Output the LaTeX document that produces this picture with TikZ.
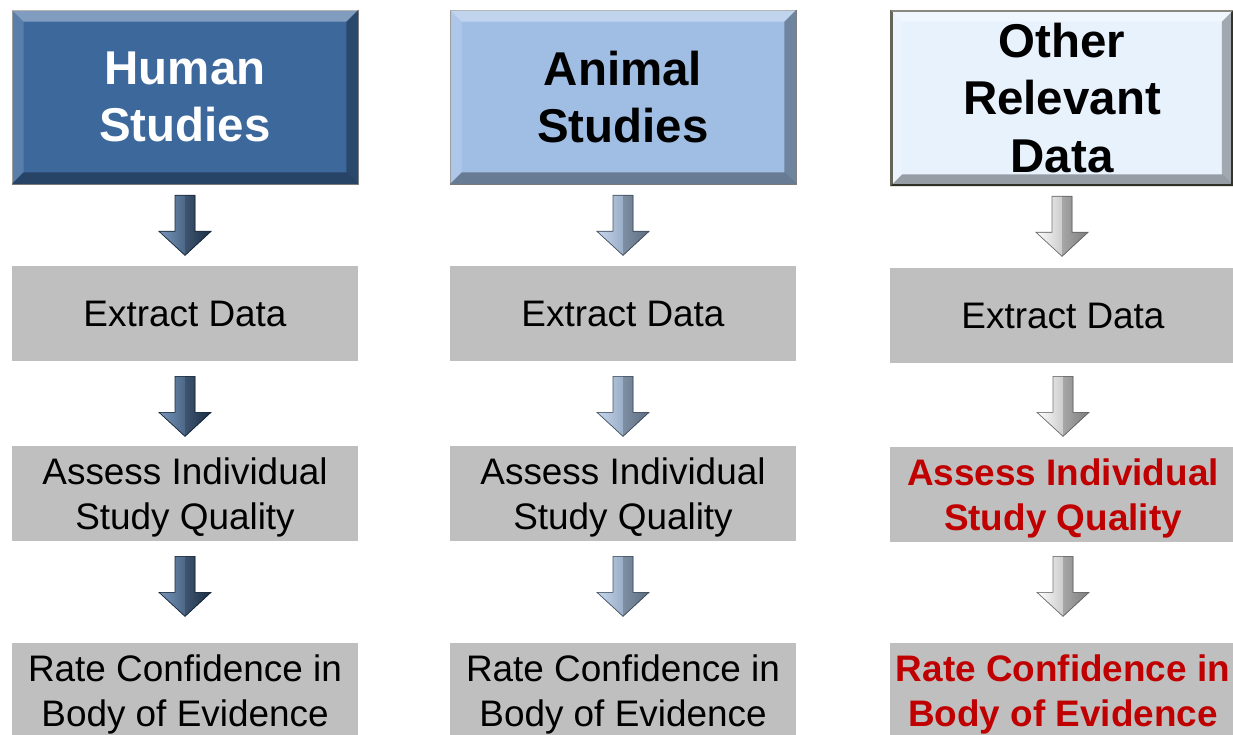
\documentclass[tikz,border=0pt]{standalone}
\usepackage{fontspec}
\setmainfont{Liberation Sans}
\usetikzlibrary{calc}
\definecolor{humanblue}{HTML}{3D689C}
\definecolor{animalblue}{HTML}{A0BEE4}
\definecolor{otherblue}{HTML}{E8F2FD}
\definecolor{stepgray}{HTML}{BFBFBF}
\definecolor{flagred}{HTML}{C00000}
\definecolor{otherrim}{HTML}{4B4B3C}

\tikzset{
	head/.style={minimum width=6.92cm, minimum height=3.48cm, inner sep=0pt, align=center, font=\fontsize{27}{32.5}\selectfont\bfseries},
	stepbox/.style={fill=stepgray, minimum width=6.92cm, minimum height=1.9cm, inner sep=0pt, align=center, font=\fontsize{21}{25.5}\selectfont},
	twoline/.style={text height=45pt},
	redstep/.style={stepbox, text=flagred, font=\fontsize{21}{25.5}\selectfont\bfseries},
	harrow/.style={left color=humanblue!70!white, right color=humanblue!55!black, draw=humanblue!40!black, line width=0.4pt},
	aarrow/.style={left color=animalblue!60!white, right color=animalblue!70!black, draw=animalblue!45!black, line width=0.4pt},
	oarrow/.style={left color=white, right color=black!40, draw=black!55, line width=0.4pt},
}

% bevelled rim round a box: (node)(rim width)
\def\bevel(#1)(#2){
	\fill[white, opacity=0.35] (#1.north west) -- (#1.north east) -- ($(#1.north east)+(-#2,-#2)$) -- ($(#1.north west)+(#2,-#2)$) -- cycle;
	\fill[white, opacity=0.15] (#1.north west) -- (#1.south west) -- ($(#1.south west)+(#2,#2)$) -- ($(#1.north west)+(#2,-#2)$) -- cycle;
	\fill[black, opacity=0.30] (#1.north east) -- (#1.south east) -- ($(#1.south east)+(-#2,#2)$) -- ($(#1.north east)+(-#2,-#2)$) -- cycle;
	\fill[black, opacity=0.35] (#1.south west) -- (#1.south east) -- ($(#1.south east)+(-#2,#2)$) -- ($(#1.south west)+(#2,#2)$) -- cycle;
}

% block arrow hanging below a node: [style](node)(gap)
\def\blockarrow[#1](#2)(#3){
	\coordinate (top) at ($(#2.south)+(0,-#3)$);
	\fill[#1] ($(top)+(-0.2,0)$) -- ++(0.4,0) -- ++(0,-0.72) -- ++(0.32,0) -- ($(top)+(0,-1.2)$) -- ($(top)+(-0.52,-0.72)$) -- ++(0.32,0) -- cycle;
	\fill[black, opacity=0.18] (top) -- ++(0.2,0) -- ++(0,-0.72) -- ++(0.32,0) -- ($(top)+(0,-1.2)$) -- cycle;
}

\begin{document}
\begin{tikzpicture}
			%%%%% START %%%%%
			\useasboundingbox (0,0) rectangle (24.66,-14.7);
			
			% human studies
			\node[head, fill=humanblue, text=white, draw=black!45] (hum) at (3.70,-1.94) {Human\\Studies};
			\bevel(hum)(0.24)
			\node[stepbox] (humex) at (3.70,-6.27) {Extract Data};
			\node[stepbox, twoline] (humqa) at (3.70,-9.87) {Assess Individual\\Study Quality};
			\node[stepbox, twoline] (humrate) at (3.70,-13.81) {Rate Confidence in\\Body of Evidence};
			\blockarrow[harrow](hum)(0.22)
			\blockarrow[harrow](humex)(0.30)
			\blockarrow[harrow](humqa)(0.30)
			
			% animal studies
			\node[head, fill=animalblue, draw=black!45] (ani) at (12.46,-1.94) {Animal\\Studies};
			\bevel(ani)(0.24)
			\node[stepbox] (aniex) at (12.46,-6.27) {Extract Data};
			\node[stepbox, twoline] (aniqa) at (12.46,-9.87) {Assess Individual\\Study Quality};
			\node[stepbox, twoline] (anirate) at (12.46,-13.81) {Rate Confidence in\\Body of Evidence};
			\blockarrow[aarrow](ani)(0.22)
			\blockarrow[aarrow](aniex)(0.30)
			\blockarrow[aarrow](aniqa)(0.30)
			
			% other relevant data
			\node[head, fill=otherblue, draw=otherrim, line width=1.5pt, minimum width=6.82cm] (oth) at (21.24,-1.96) {Other\\Relevant\\Data};
			\bevel(oth)(0.24)
			\node[stepbox] (othex) at (21.26,-6.31) {Extract Data};
			\node[redstep, twoline] (othqa) at (21.26,-9.89) {Assess Individual\\Study Quality};
			\node[redstep, twoline] (othrate) at (21.26,-13.81) {Rate Confidence in\\Body of Evidence};
			\blockarrow[oarrow](oth)(0.20)
			\blockarrow[oarrow](othex)(0.26)
			\blockarrow[oarrow](othqa)(0.28)
			%%%%% END %%%%%
\end{tikzpicture}
\end{document}
